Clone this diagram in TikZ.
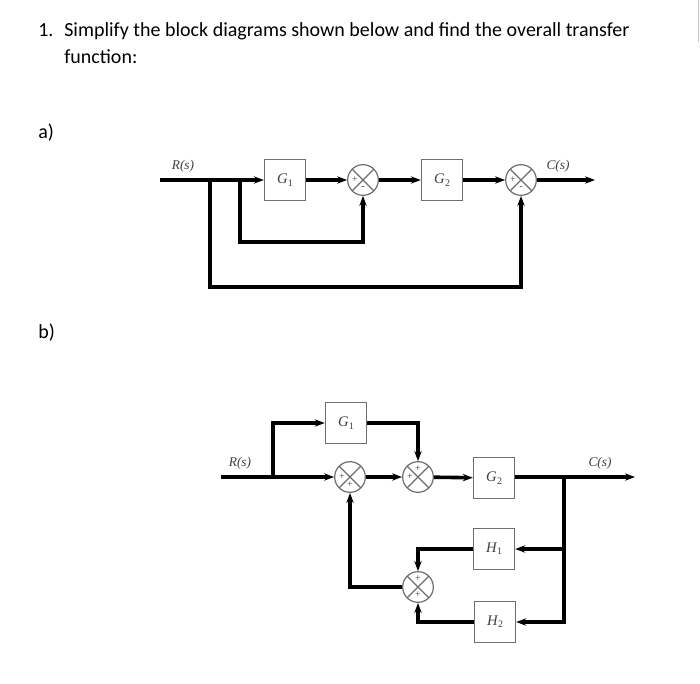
\documentclass[tikz,border=0pt]{standalone}
\usepackage{fontspec}
\setmainfont{Carlito}
\newfontfamily\diagfont{Liberation Serif}
\usetikzlibrary{arrows.meta,calc}
\definecolor{BoxGray}{HTML}{6E6E6E}
\definecolor{LabelGray}{HTML}{3E3E48}
\tikzset{
    % Transfer function block
    block/.style={
        draw=BoxGray,
        line width=0.8pt,
        fill=white,
        minimum width=31pt,
        minimum height=31pt,
        inner sep=0pt,
        text=LabelGray,
        font=\diagfont\fontsize{11}{12}\selectfont
    },
    % Summing junction
    sumnode/.style={
        circle,
        draw=BoxGray,
        line width=0.9pt,
        fill=white,
        minimum size=23pt,
        inner sep=0pt,
        path picture={
            \draw[BoxGray, line width=0.9pt]
                (path picture bounding box.north west) -- (path picture bounding box.south east)
                (path picture bounding box.north east) -- (path picture bounding box.south west);
        }
    },
    % Signs in the junctions
    signmark/.style={
        inner sep=0pt,
        text=LabelGray,
        font=\diagfont\fontsize{7.5}{7.5}\selectfont
    },
    % Signal names
    signame/.style={
        inner sep=0pt,
        text=LabelGray,
        font=\diagfont\itshape\fontsize{10}{11}\selectfont
    },
    % Signal lines
    sig/.style={
        -{Stealth[length=7.5pt,width=5.5pt]},
        line width=2.7pt,
        draw=black
    },
    % Question text
    qtext/.style={
        anchor=base west,
        inner sep=0pt,
        font=\fontsize{15}{17}\selectfont
    }
}
\begin{document}
\begin{tikzpicture}[x=0.75pt, y=-0.75pt]
    \useasboundingbox (0,0) rectangle (700,683);
    \draw[gray!45, line width=0.6pt] (698,0) -- (698,42);

    % Question
    \node[qtext] (num) at (38,36) {1.};
    \node[qtext] (q1) at (64,36) {Simplify the block diagrams shown below and find the overall transfer};
    \node[qtext] (q2) at (64,63) {function:};
    \node[qtext] (pa) at (38,138) {a)};
    \node[qtext] (pb) at (38,338) {b)};

    % Diagram a
    \coordinate (ain) at (160,180);
    \coordinate (abr1) at (210,180);
    \coordinate (abr2) at (240,180);
    \coordinate (afb1) at (363,242);
    \coordinate (afb2) at (521,287);
    \coordinate (aout) at (595,180);
    \node[block] (g1) at (285,180) {\itshape G\kern0.3pt\raisebox{-0.35ex}{\upshape\fontsize{7.5}{7.5}\selectfont 1}};
    \node[sumnode] (s1) at (363,180) {};
    \node[block] (g2) at (442,180) {\itshape G\kern0.3pt\raisebox{-0.35ex}{\upshape\fontsize{7.5}{7.5}\selectfont 2}};
    \node[sumnode] (s2) at (521,180) {};
    \node[signame] (ar) at (183,166) {R(s)};
    \node[signame] (ac) at (558,166) {C(s)};
    \node[signmark] at ($(s1)+(-8,0)$) {+};
    \node[signmark] at ($(s1)+(0,8)$) {-};
    \node[signmark] at ($(s2)+(-8,0)$) {+};
    \node[signmark] at ($(s2)+(0,8)$) {-};

    \draw[sig] (ain) -- (g1);
    \draw[sig] (g1) -- (s1);
    \draw[sig] (s1) -- (g2);
    \draw[sig] (g2) -- (s2);
    \draw[sig] (s2) -- (aout);
    \draw[sig] (abr2) |- (afb1) -- (s1.south);
    \draw[sig] (abr1) |- (afb2) -- (s2.south);

    % Diagram b
    \coordinate (bin) at (221,477);
    \coordinate (bbr1) at (273,477);
    \coordinate (bbr2) at (564,477);
    \coordinate (bout) at (635,477);
    \node[block] (bg1) at (346,423) {\itshape G\kern0.3pt\raisebox{-0.35ex}{\upshape\fontsize{7.5}{7.5}\selectfont 1}};
    \node[sumnode] (sa) at (350,477) {};
    \node[sumnode] (sb) at (418,477) {};
    \node[block] (bg2) at (494,478) {\itshape G\kern0.3pt\raisebox{-0.35ex}{\upshape\fontsize{7.5}{7.5}\selectfont 2}};
    \node[block] (h1) at (494,549) {\itshape H\kern0.3pt\raisebox{-0.35ex}{\upshape\fontsize{7.5}{7.5}\selectfont 1}};
    \node[block] (h2) at (495,622) {\itshape H\kern0.3pt\raisebox{-0.35ex}{\upshape\fontsize{7.5}{7.5}\selectfont 2}};
    \node[sumnode] (sc) at (418,587) {};
    \node[signame] (br) at (240,463) {R(s)};
    \node[signame] (bc) at (600,463) {C(s)};
    \node[signmark] at ($(sa)+(-8,0)$) {+};
    \node[signmark] at ($(sa)+(0,8)$) {+};
    \node[signmark] at ($(sb)+(-8,0)$) {+};
    \node[signmark] at ($(sb)+(0,-8)$) {+};
    \node[signmark] at ($(sc)+(0,-8)$) {+};
    \node[signmark] at ($(sc)+(0,8)$) {+};

    \draw[sig] (bin) -- (sa);
    \draw[sig] (bbr1) |- (bg1);
    \draw[sig] (bg1) -| (sb);
    \draw[sig] (sa) -- (sb);
    \draw[sig] (sb) -- (bg2);
    \draw[sig] (bg2.east |- bout) -- (bout);
    \draw[sig] (bbr2) |- (h1);
    \draw[sig] (bbr2) |- (h2);
    \draw[sig] (h1) -| (sc);
    \draw[sig] (h2) -| (sc);
    \draw[sig] (sc) -| (sa);
\end{tikzpicture}
\end{document}
